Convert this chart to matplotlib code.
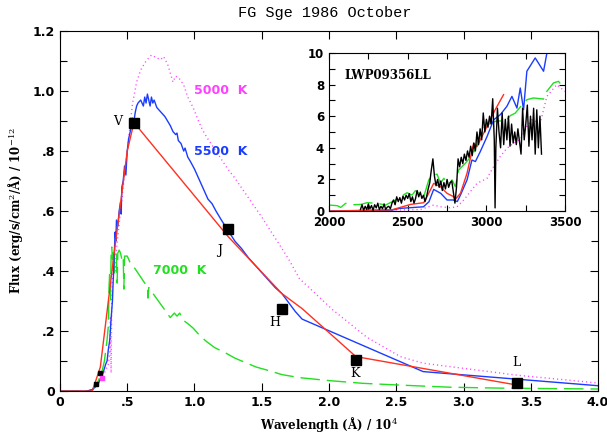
import matplotlib
matplotlib.use("Agg")
import matplotlib.pyplot as plt
from matplotlib.ticker import MultipleLocator

# ---- main panel data (wavelength in 1e4 A, flux in 1e-12) ----
phot_x = [0.55, 1.25, 1.65, 2.20, 3.40]
phot_y = [0.895, 0.540, 0.275, 0.105, 0.028]
phot_lbl = ["V", "J", "H", "K", "L"]

uv_x = [0.265, 0.300]
uv_y = [0.025, 0.062]
uvm_x = [0.310]
uvm_y = [0.045]

red_x = [0.00, 0.20, 0.24, 0.30, 0.40, 0.50, 0.55, 1.25, 1.45, 1.65, 1.80, 2.20, 3.40]
red_y = [0.0, 0.0, 0.0, 0.08, 0.45, 0.80, 0.895, 0.515, 0.42, 0.325, 0.275, 0.115, 0.020]

blue_x = [0.00, 0.20, 0.24, 0.28, 0.30, 0.32, 0.34, 0.35, 0.36, 0.37, 0.38, 0.39,
          0.395, 0.40, 0.405, 0.41, 0.415, 0.42, 0.43, 0.44, 0.45, 0.455, 0.46,
          0.47, 0.48, 0.49, 0.50, 0.51, 0.52, 0.53, 0.54, 0.55, 0.56, 0.57, 0.58,
          0.60, 0.62, 0.63, 0.64, 0.65, 0.66, 0.67, 0.68, 0.69, 0.70, 0.72, 0.74,
          0.76, 0.78, 0.80, 0.82, 0.84, 0.86, 0.87, 0.88, 0.90, 0.92, 0.93, 0.95,
          0.97, 1.00, 1.02, 1.05, 1.07, 1.10, 1.13, 1.16, 1.20, 1.25, 1.30, 1.35,
          1.40, 1.45, 1.50, 1.55, 1.60, 1.65, 1.70, 1.75, 1.80, 2.70, 4.00]
blue_y = [0.0, 0.0, 0.005, 0.02, 0.04, 0.06, 0.09, 0.10, 0.14, 0.17, 0.24, 0.30,
          0.36, 0.41, 0.47, 0.53, 0.50, 0.57, 0.55, 0.60, 0.63, 0.59, 0.68,
          0.70, 0.75, 0.72, 0.80, 0.84, 0.86, 0.88, 0.91, 0.90, 0.93, 0.95, 0.96,
          0.97, 0.95, 0.98, 0.96, 0.99, 0.97, 0.95, 0.98, 0.96, 0.97, 0.945, 0.935,
          0.925, 0.915, 0.90, 0.885, 0.865, 0.855, 0.86, 0.835, 0.825, 0.80, 0.81, 0.78,
          0.765, 0.74, 0.72, 0.69, 0.67, 0.64, 0.625, 0.60, 0.57, 0.535, 0.50, 0.475,
          0.445, 0.42, 0.395, 0.37, 0.345, 0.325, 0.295, 0.265, 0.240, 0.065, 0.018]

mag_x = [0.00, 0.22, 0.26, 0.30, 0.33, 0.36, 0.37, 0.375, 0.38, 0.385, 0.39, 0.40,
         0.41, 0.42, 0.45, 0.48, 0.51, 0.54, 0.57, 0.60, 0.64, 0.68, 0.72, 0.75,
         0.77, 0.80, 0.82, 0.84, 0.86, 0.89, 0.92, 0.95, 0.99, 1.03, 1.06, 1.10,
         1.16, 1.24, 1.30, 1.40, 1.50, 1.60, 1.70, 1.78, 2.03, 2.28, 2.53, 2.70,
         3.40, 4.00]
mag_y = [0.0, 0.0, 0.01, 0.04, 0.06, 0.09, 0.13, 0.25, 0.06, 0.30, 0.38, 0.45,
         0.40, 0.47, 0.60, 0.72, 0.84, 0.96, 1.03, 1.07, 1.10, 1.12, 1.11, 1.105,
         1.115, 1.09, 1.06, 1.03, 1.05, 1.04, 1.02, 0.98, 0.945, 0.90, 0.87, 0.84,
         0.80, 0.745, 0.71, 0.645, 0.58, 0.51, 0.44, 0.375, 0.27, 0.18, 0.115, 0.093,
         0.053, 0.027]

grn_x = [0.00, 0.20, 0.24, 0.28, 0.31, 0.33, 0.35, 0.36, 0.365, 0.37, 0.375, 0.38,
         0.385, 0.39, 0.395, 0.40, 0.405, 0.41, 0.42, 0.425, 0.43, 0.44, 0.45, 0.46,
         0.47, 0.475, 0.48, 0.50, 0.52, 0.54, 0.57, 0.60, 0.63, 0.65, 0.655, 0.66,
         0.70, 0.74, 0.78, 0.82, 0.85, 0.87, 0.89, 0.92, 0.95, 0.99, 1.04, 1.09,
         1.15, 1.24, 1.30, 1.39, 1.46, 1.54, 1.65, 1.78, 2.00, 2.25, 2.53, 2.90,
         3.27, 4.00]
grn_y = [0.0, 0.0, 0.005, 0.03, 0.06, 0.10, 0.17, 0.22, 0.35, 0.40, 0.30, 0.45,
         0.48, 0.44, 0.47, 0.38, 0.46, 0.47, 0.45, 0.36, 0.46, 0.47, 0.46, 0.44,
         0.45, 0.34, 0.45, 0.45, 0.43, 0.42, 0.40, 0.38, 0.36, 0.35, 0.31, 0.345,
         0.32, 0.295, 0.27, 0.245, 0.26, 0.25, 0.26, 0.235, 0.225, 0.21, 0.185, 0.165,
         0.145, 0.125, 0.11, 0.093, 0.08, 0.07, 0.055, 0.045, 0.035, 0.026, 0.02, 0.013,
         0.010, 0.007]

# ---- inset data (wavelength in A) ----
iue_x = [2200, 2210, 2220, 2230, 2240, 2250, 2260, 2270, 2280, 2290, 2300, 2310,
         2320, 2330, 2340, 2350, 2360, 2370, 2380, 2390, 2400, 2410, 2420, 2430,
         2440, 2450, 2460, 2470, 2480, 2490, 2500, 2510, 2520, 2530, 2540, 2550,
         2560, 2570, 2580, 2590, 2600, 2610, 2620, 2630, 2640, 2650, 2660, 2670,
         2680, 2690, 2700, 2710, 2720, 2730, 2740, 2750, 2760, 2770, 2780, 2790,
         2800, 2810, 2820, 2830, 2840, 2850, 2860, 2870, 2880, 2890, 2900, 2910,
         2920, 2930, 2940, 2950, 2960, 2970, 2980, 2990, 3000, 3010, 3020, 3030,
         3040, 3050, 3055, 3060, 3070, 3080, 3090, 3100, 3110, 3120, 3130, 3140,
         3150, 3160, 3170, 3180, 3190, 3200, 3210, 3220, 3230, 3240, 3250, 3260,
         3270, 3280, 3290, 3300, 3310, 3320, 3330, 3340, 3350]
iue_y = [0.1, 0.4, 0.05, 0.3, 0.1, 0.45, 0.15, 0.35, 0.05, 0.4, 0.2, 0.5,
         0.1, 0.3, 0.15, 0.45, 0.1, 0.25, 0.3, 0.15, 0.5, 0.7, 0.4, 0.9,
         0.6, 0.85, 0.5, 0.95, 0.7, 1.0, 0.8, 1.1, 0.6, 0.9, 0.5, 0.8,
         1.3, 0.9, 1.2, 0.8, 1.0, 0.6, 0.9, 1.4, 1.8, 2.6, 3.3, 2.2,
         1.6, 2.0, 1.5, 1.9, 1.3, 1.8, 1.4, 2.0, 1.5, 1.8, 1.9, 1.2,
         0.5, 1.5, 3.3, 2.8, 3.4, 3.0, 3.6, 3.2, 3.8, 3.4, 4.1, 3.5,
         4.3, 3.8, 5.0, 4.2, 5.2, 4.5, 6.2, 5.0, 5.8, 5.3, 6.0, 5.5,
         7.1, 4.5, 0.2, 4.0, 6.5, 5.0, 4.0, 6.2, 4.2, 5.8, 4.5, 6.0,
         4.1, 5.5, 4.3, 5.0, 4.2, 5.2, 4.4, 3.6, 6.5, 4.5, 5.5, 6.7,
         4.1, 6.0, 4.5, 6.5, 3.6, 6.4, 4.0, 6.0, 3.6]

ib_x = [2000, 2400, 2450, 2600, 2635, 2665, 2710, 2750, 2790, 2815, 2835, 2877,
        2908, 2930, 2961, 3004, 3046, 3088, 3130, 3162, 3194, 3215, 3236, 3257,
        3310, 3363, 3390]
ib_y = [0.0, 0.06, 0.17, 0.27, 0.59, 1.37, 1.12, 0.70, 0.70, 0.60, 1.01, 1.97,
        3.23, 3.13, 3.76, 4.71, 5.77, 6.09, 6.62, 7.25, 6.51, 7.78, 6.41, 8.84,
        9.68, 8.84, 10.3]

ir_x = [2000, 2400, 2518, 2602, 2644, 2665, 2708, 2750, 2792, 2803, 2835, 2877,
        2919, 2940, 3004, 3056, 3109]
ir_y = [0.0, 0.08, 0.42, 0.53, 1.33, 1.75, 1.54, 1.12, 0.91, 0.75, 1.12, 2.39,
        4.29, 4.08, 5.35, 6.41, 7.36]

ig_x = [2000, 2053, 2074, 2106, 2150, 2201, 2243, 2306, 2359, 2423, 2454, 2496,
        2528, 2549, 2602, 2634, 2655, 2687, 2708, 2729, 2760, 2782, 2803, 2824,
        2866, 2919, 2972, 3004, 3067, 3120, 3151, 3183, 3215, 3257, 3299, 3363,
        3384, 3426, 3458, 3470]
ig_y = [0.38, 0.34, 0.23, 0.49, 0.40, 0.42, 0.53, 0.49, 0.38, 0.70, 0.91, 1.16,
        1.01, 1.29, 0.91, 1.97, 2.28, 2.33, 1.75, 2.07, 1.69, 1.97, 1.54, 2.60,
        3.02, 3.66, 5.14, 5.45, 5.71, 5.67, 6.03, 6.19, 6.58, 7.04, 7.15, 7.08,
        7.57, 8.10, 8.20, 8.05]

im_x = [2000, 2400, 2581, 2665, 2708, 2771, 2813, 2856, 2898, 2940, 3004, 3046,
        3088, 3130, 3173, 3215, 3257, 3289, 3342, 3384, 3447, 3470, 3500]
im_y = [0.0, 0.06, 0.10, 0.38, 0.27, 0.21, 0.27, 0.70, 1.23, 1.75, 2.07, 2.81,
        3.45, 3.97, 4.29, 4.50, 5.35, 5.77, 5.56, 7.25, 7.99, 7.80, 7.57]

RED = "#ff3020"
BLUE = "#1a3cff"
MAG = "#ff40ff"
GRN = "#20e020"

plt.rcParams["mathtext.fontset"] = "dejavuserif"

fig = plt.figure(figsize=(6.07, 4.37), dpi=100, facecolor="white")
ax = fig.add_axes([0.0988, 0.105, 0.8864, 0.824])

ax.plot(mag_x, mag_y, color=MAG, lw=1.0, linestyle=(0, (0.8, 2.2)))
ax.plot(grn_x, grn_y, color=GRN, lw=1.0, linestyle=(0, (14, 5)))
ax.plot(blue_x, blue_y, color=BLUE, lw=1.0)
ax.plot(red_x, red_y, color=RED, lw=1.0)
ax.plot(phot_x, phot_y, "s", color="black", ms=6.5, zorder=5)
ax.plot(uv_x, uv_y, "s", color="black", ms=3, zorder=5)
ax.plot(uvm_x, uvm_y, "s", color=MAG, ms=3, zorder=5)

# labels of the photometric points
lbl_pos = [(0.43, 0.90), (1.19, 0.47), (1.60, 0.23), (2.19, 0.06), (3.39, 0.097)]
for (lx, ly), t in zip(lbl_pos, phot_lbl):
    ax.text(lx, ly, t, ha="center", va="center", fontsize=9, family="DejaVu Serif")

ax.text(1.0, 1.003, "5000  K", color=MAG, fontsize=9, fontweight="bold", va="center")
ax.text(1.0, 0.797, "5500  K", color=BLUE, fontsize=9, fontweight="bold", va="center")
ax.text(0.69, 0.403, "7000  K", color=GRN, fontsize=9, fontweight="bold", va="center")

ax.set_xlim(0, 4.0)
ax.set_ylim(0, 1.2)
ax.set_xticks([0, 0.5, 1.0, 1.5, 2.0, 2.5, 3.0, 3.5, 4.0])
ax.set_xticklabels(["0", ".5", "1.0", "1.5", "2.0", "2.5", "3.0", "3.5", "4.0"])
ax.set_yticks([0, 0.2, 0.4, 0.6, 0.8, 1.0, 1.2])
ax.set_yticklabels(["0", ".2", ".4", ".6", ".8", "1.0", "1.2"])
ax.yaxis.set_minor_locator(MultipleLocator(0.1))
ax.tick_params(which="both", direction="in", top=True, right=True,
               labelsize=9, width=0.8)
ax.tick_params(which="major", length=6)
ax.tick_params(which="minor", length=5)
for lab in ax.get_xticklabels() + ax.get_yticklabels():
    lab.set_fontweight("bold")
ax.set_xlabel("Wavelength (Å) / 10$^4$", fontsize=8.5, family="DejaVu Serif",
              fontweight="bold", labelpad=4)
ax.set_ylabel("Flux (erg/s/cm$^2$/Å) / 10$^{-12}$", fontsize=8.5,
              family="DejaVu Serif", fontweight="bold", labelpad=6)
fig.text(0.535, 0.97, "FG Sge 1986 October", ha="center", va="center",
         fontsize=11, family="Liberation Mono")

# ---- inset ----
ins = fig.add_axes([0.542, 0.517, 0.389, 0.362])
ins.plot(im_x, im_y, color=MAG, lw=1.0, linestyle=(0, (0.8, 2.2)))
ins.plot(ig_x, ig_y, color=GRN, lw=1.0, linestyle=(0, (14, 5)))
ins.plot(ib_x, ib_y, color=BLUE, lw=1.0)
ins.plot(ir_x, ir_y, color=RED, lw=1.0)
ins.plot(iue_x, iue_y, color="black", lw=1.0)
ins.text(2100, 8.6, "LWP09356LL", fontsize=8.5, fontweight="bold",
         family="DejaVu Serif", va="center")
ins.set_xlim(2000, 3500)
ins.set_ylim(0, 10)
ins.set_xticks([2000, 2500, 3000, 3500])
ins.xaxis.set_minor_locator(MultipleLocator(250))
ins.set_yticks([0, 2, 4, 6, 8, 10])
ins.yaxis.set_minor_locator(MultipleLocator(1))
ins.tick_params(which="both", direction="in", top=True, right=True,
                labelsize=8.5, width=0.8, length=4)
for lab in ins.get_xticklabels() + ins.get_yticklabels():
    lab.set_fontweight("bold")

fig.savefig("out.png", dpi=100, facecolor="white")
